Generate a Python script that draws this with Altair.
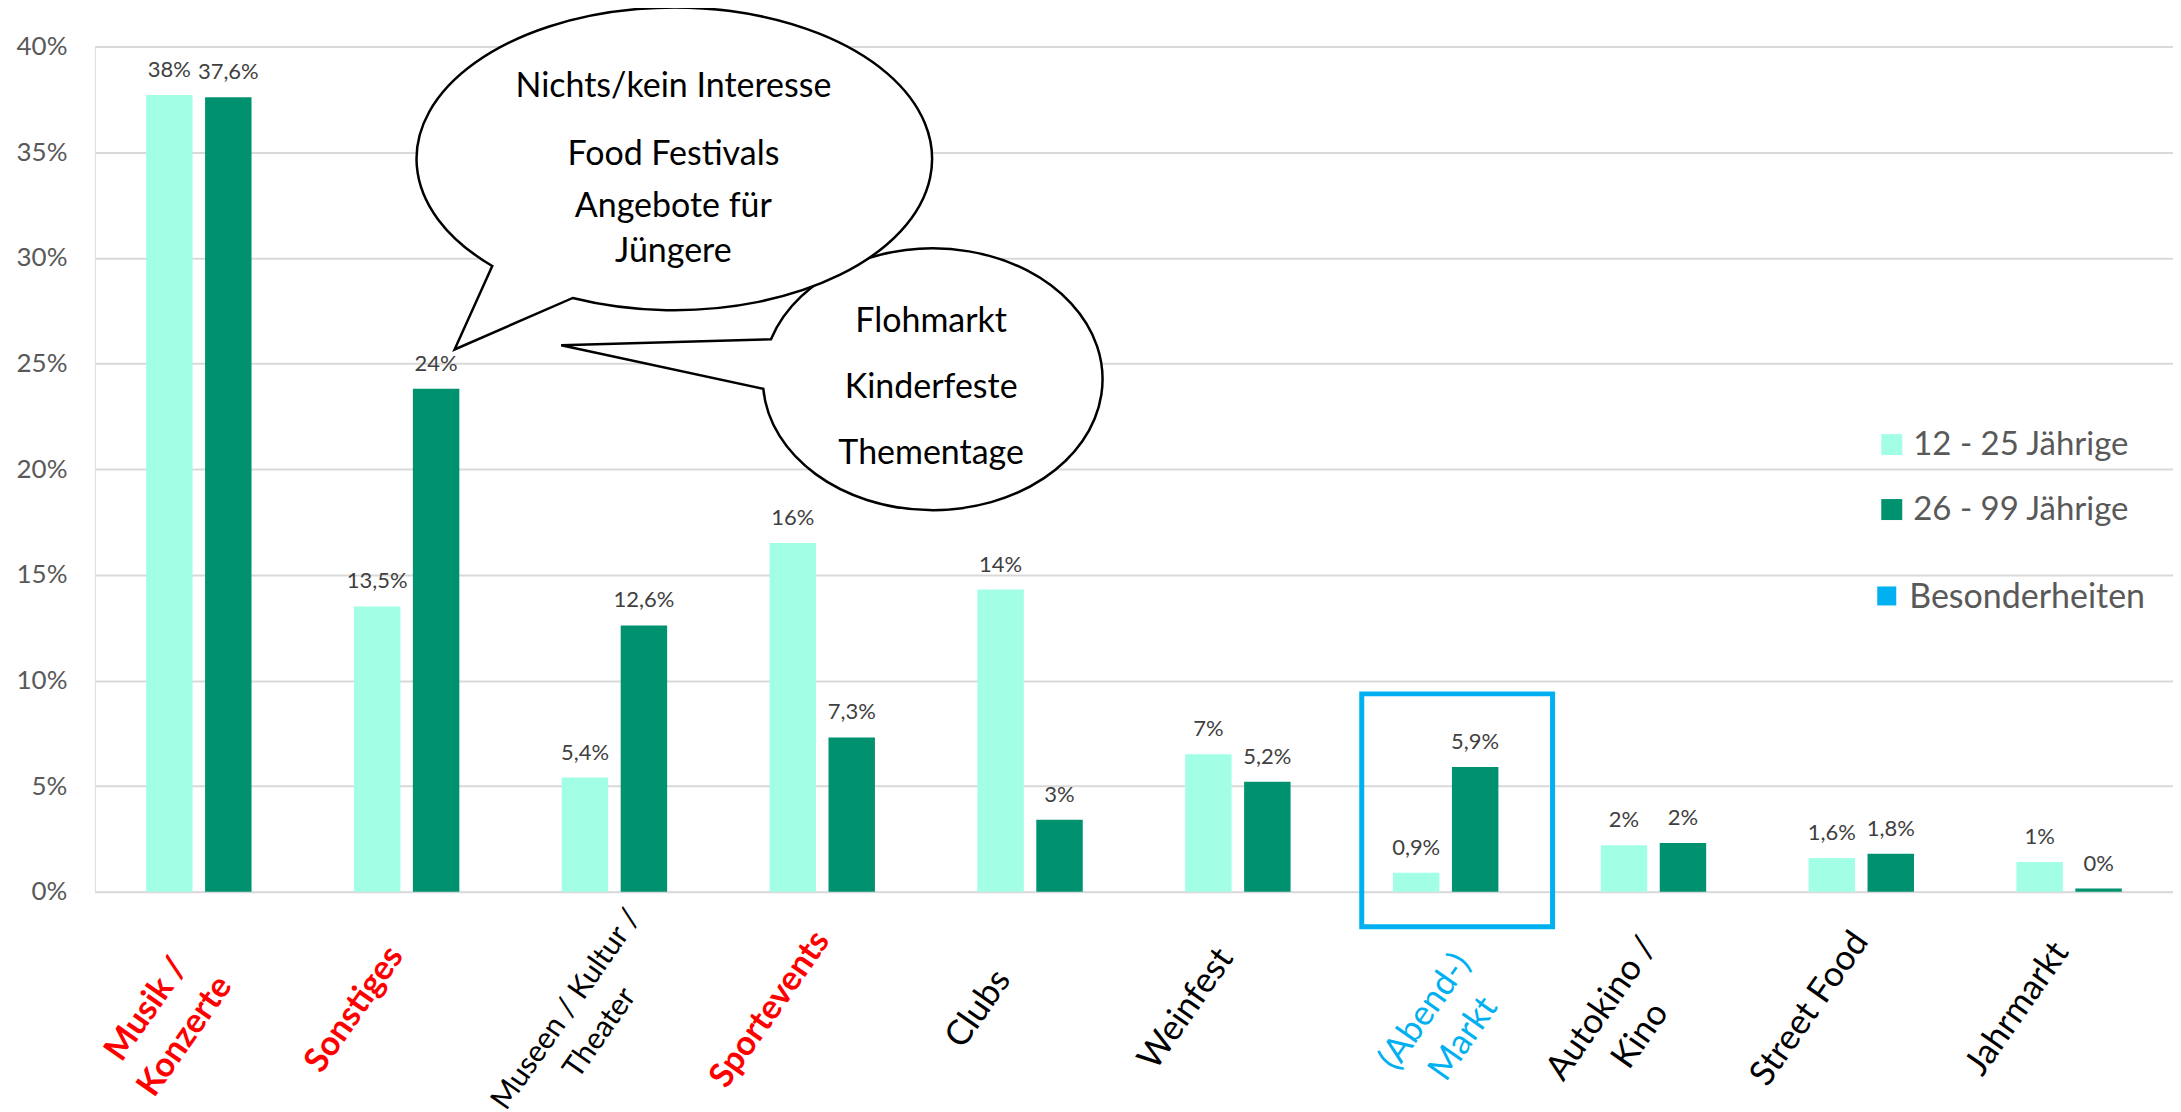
import altair as alt
import pandas as pd

# ---------------- data ----------------
categories = ["Musik / Konzerte", "Sonstiges", "Museen / Kultur / Theater", "Sportevents",
              "Clubs", "Weinfest", "(Abend-) Markt", "Autokino / Kino", "Street Food", "Jahrmarkt"]
label_lines = ["Musik /\nKonzerte", "Sonstiges", "Museen / Kultur /\nTheater", "Sportevents",
               "Clubs", "Weinfest", "(Abend-)\nMarkt", "Autokino /\nKino", "Street Food", "Jahrmarkt"]
label_colors = ["#FF0000", "#FF0000", "#000000", "#FF0000", "#000000",
                "#000000", "#00B0F0", "#000000", "#000000", "#000000"]
label_style = ["bold", "bold", "long", "bold", "normal", "normal", "mark", "normal", "normal", "normal"]

series = ["12 - 25 Jährige", "26 - 99 Jährige"]
young = [37.7, 13.5, 5.4, 16.5, 14.3, 6.5, 0.9, 2.2, 1.6, 1.4]
old = [37.6, 23.8, 12.6, 7.3, 3.4, 5.2, 5.9, 2.3, 1.8, 0.15]
young_labels = ["38%", "13,5%", "5,4%", "16%", "14%", "7%", "0,9%", "2%", "1,6%", "1%"]
old_labels = ["37,6%", "24%", "12,6%", "7,3%", "3%", "5,2%", "5,9%", "2%", "1,8%", "0%"]
y_ticks = [0, 5, 10, 15, 20, 25, 30, 35, 40]

highlight = "(Abend-) Markt"
extra_legend = "Besonderheiten"
bubble1_lines = ["Nichts/kein Interesse", "Food Festivals", "Angebote für", "Jüngere"]
bubble2_lines = ["Flohmarkt", "Kinderfeste", "Thementage"]

# ---------------- styles ----------------
LIGHT = "#A2FFE6"
DARK = "#00926F"
BLUE = "#00B0F0"
FONT = "Lato"
W, H = 2080, 846

rows = []
for i, c in enumerate(categories):
    rows.append({"category": c, "series": series[0], "value": young[i], "label": young_labels[i]})
    rows.append({"category": c, "series": series[1], "value": old[i], "label": old_labels[i]})
df = pd.DataFrame(rows)

lab_df = pd.DataFrame({"category": categories, "text": label_lines,
                       "color": label_colors, "style": label_style})

x_enc = alt.X("category:N", sort=categories,
              scale=alt.Scale(paddingInner=0, paddingOuter=0),
              axis=alt.Axis(labels=False, ticks=False, domain=False, title=None, grid=False))
xoff_enc = alt.XOffset("series:N", sort=series,
                       scale=alt.Scale(paddingInner=0.212, paddingOuter=0.8686))
y_enc = alt.Y("value:Q", scale=alt.Scale(domain=[0, 40], nice=False, zero=True),
              axis=alt.Axis(values=y_ticks, labelExpr="datum.value + '%'", title=None,
                            ticks=False, tickSize=0, domain=False, labelPadding=28,
                            labelFontSize=26, labelColor="#595959", labelFont=FONT,
                            grid=True, gridColor="#D9D9D9", gridWidth=2))

bars = alt.Chart(df).mark_bar().encode(
    x=x_enc, xOffset=xoff_enc, y=y_enc,
    color=alt.Color("series:N", sort=series,
                    scale=alt.Scale(domain=series, range=[LIGHT, DARK]),
                    legend=alt.Legend(orient="none", legendX=1782, legendY=382, title=None,
                                      symbolType="square", symbolSize=441, symbolStrokeWidth=0,
                                      labelFontSize=33, labelFont=FONT, labelColor="#595959",
                                      labelLimit=0, rowPadding=31, labelOffset=5, padding=0))
)

values = alt.Chart(df).mark_text(baseline="alphabetic", dy=-18, fontSize=22, font=FONT,
                                 color="#404040").encode(
    x=alt.X("category:N", sort=categories), xOffset=alt.XOffset("series:N", sort=series),
    y=alt.Y("value:Q"), text="label:N")

box = alt.Chart(pd.DataFrame({"category": [highlight]})).mark_bar(
    filled=False, color=BLUE, strokeWidth=5, width=191, xOffset=11.5).encode(
    x=alt.X("category:N", sort=categories), y=alt.value(648), y2=alt.value(881))


def xlabels(style, weight, size, lh, dx, py):
    return alt.Chart(lab_df).transform_filter(alt.datum.style == style).mark_text(
        angle=305, align="center", baseline="middle", fontSize=size, font=FONT,
        fontWeight=weight, lineBreak="\n", lineHeight=lh, xOffset=dx).encode(
        x=alt.X("category:N", sort=categories), y=alt.value(py), text="text:N",
        color=alt.Color("color:N", scale=None))


xl_bold = xlabels("bold", "bold", 34, 47, -52, 964)
xl_norm = xlabels("normal", "normal", 35, 47, -52, 963)
xl_long = xlabels("long", "normal", 30, 41, -48, 964)
xl_mark = xlabels("mark", "normal", 35, 47, -21, 966)

one = pd.DataFrame({"k": [0]})
path1 = "M -181.3 107.2 A 258 151.5 0 1 1 -100.7 139.2 L -219 190.8 Z"
path2 = "M -160.3 -39 A 170 131 0 1 1 -168 10.7 L -370.3 -33 Z"
bubble2 = alt.Chart(one).mark_point(shape=path2, size=4, filled=True, fill="white", stroke="black",
                                    strokeWidth=2.5, opacity=1, fillOpacity=1).encode(
    x=alt.value(837), y=alt.value(332))
bubble1 = alt.Chart(one).mark_point(shape=path1, size=4, filled=True, fill="white", stroke="black",
                                    strokeWidth=2.5, opacity=1, fillOpacity=1).encode(
    x=alt.value(579), y=alt.value(112.5))

bubble_text_pos = [(579, 51), (579, 119), (579, 171), (579, 216), (837, 286), (837, 352), (837, 418)]
bubble_texts = bubble1_lines + bubble2_lines
text_layers = []
for t, (px, py) in zip(bubble_texts, bubble_text_pos):
    text_layers.append(
        alt.Chart(one).mark_text(text=t, align="center", baseline="alphabetic", fontSize=34,
                                 font=FONT, color="#000000").encode(x=alt.value(px), y=alt.value(py)))

leg_sq = alt.Chart(one).mark_square(size=361, color=BLUE, opacity=1).encode(
    x=alt.value(1793.5), y=alt.value(550))
leg_tx = alt.Chart(one).mark_text(text=extra_legend, align="left", baseline="middle", fontSize=34,
                                  font=FONT, color="#595959").encode(
    x=alt.value(1816), y=alt.value(552))

chart = alt.layer(bars, values, box, xl_bold, xl_norm, xl_long, xl_mark, bubble2, bubble1,
                  *text_layers, leg_sq, leg_tx).properties(
    width=W, height=H,
    padding={"left": 87, "top": 38, "right": 0, "bottom": 220},
    autosize=alt.AutoSizeParams(type="none"),
).configure_view(stroke=None).configure(background="white")

chart.save("out.html", embed_options={"renderer": "svg", "actions": False})
